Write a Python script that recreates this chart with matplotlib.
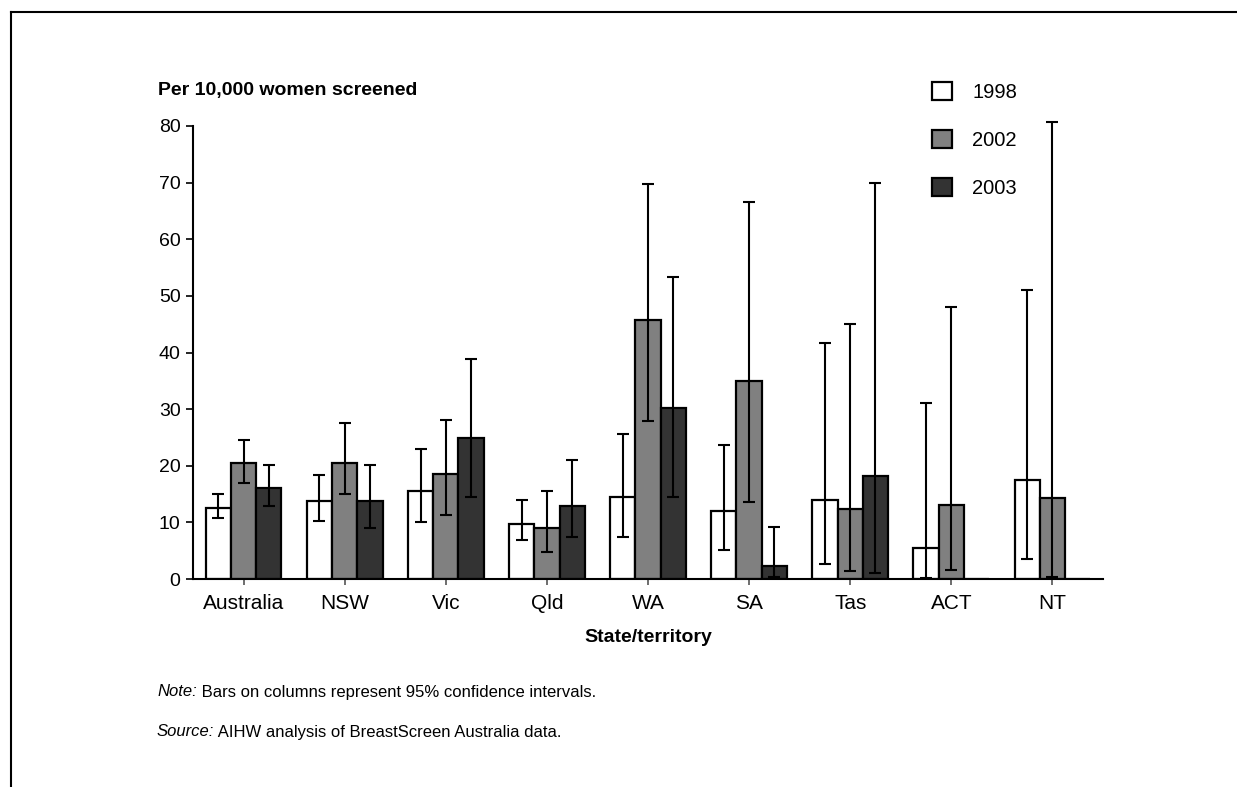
import numpy as np
import matplotlib
matplotlib.use('Agg')
import matplotlib.pyplot as plt
from matplotlib.patches import Patch
from matplotlib.lines import Line2D

plt.rcParams['font.family'] = ['Liberation Sans', 'DejaVu Sans']

# rates per 10,000 women screened, with 95% confidence limits
states = ['Australia', 'NSW', 'Vic', 'Qld', 'WA', 'SA', 'Tas', 'ACT', 'NT']
years = ['1998', '2002', '2003']

rate_1998 = [12.6, 13.8, 15.6, 9.7, 14.4, 12.0, 13.9, 5.5, 17.4]
low_1998 = [10.8, 10.2, 10.0, 6.8, 7.5, 5.2, 2.6, 0.2, 3.5]
high_1998 = [15.0, 18.4, 23.0, 13.9, 25.6, 23.6, 41.6, 31.1, 51.0]

rate_2002 = [20.4, 20.5, 18.5, 9.0, 45.8, 34.9, 12.4, 13.1, 14.3]
low_2002 = [17.0, 15.0, 11.3, 4.8, 27.9, 13.6, 1.5, 1.6, 0.4]
high_2002 = [24.6, 27.6, 28.0, 15.5, 69.7, 66.6, 45.1, 48.0, 80.7]

rate_2003 = [16.1, 13.8, 24.9, 12.9, 30.2, 2.3, 18.2, 0.0, 0.0]
low_2003 = [12.9, 9.0, 14.4, 7.5, 14.4, 0.4, 1.0, np.nan, np.nan]
high_2003 = [20.2, 20.2, 38.9, 21.0, 53.4, 9.1, 69.9, np.nan, np.nan]

colors = ['white', '#808080', '#333333']

W, H = 1237, 787
fig = plt.figure(figsize=(W / 100, H / 100), dpi=100)
ax = fig.add_axes([193 / W, 1 - 579 / H, (1103 - 193) / W, (579 - 126) / H])

x = np.arange(len(states))
width = 0.25
series = [(rate_1998, low_1998, high_1998),
          (rate_2002, low_2002, high_2002),
          (rate_2003, low_2003, high_2003)]

for i, (rate, lo, hi) in enumerate(series):
    rate = np.array(rate)
    err = np.array([rate - np.array(lo), np.array(hi) - rate])
    pos = x + (i - 1) * width
    ax.bar(pos, rate, width, color=colors[i], edgecolor='black', linewidth=1.6, zorder=2)
    eb = ax.errorbar(pos, rate, yerr=err, fmt='none', ecolor='black', elinewidth=1.5,
                     capsize=4, capthick=1.5, zorder=3)
    # NT's upper limit runs past the top of the axis
    for art in eb.lines[1] + eb.lines[2]:
        art.set_clip_on(False)

ax.set_xlim(-0.5, 8.5)
ax.set_ylim(0, 80)
ax.set_yticks(range(0, 81, 10))
ax.set_xticks(x)
ax.set_xticklabels(states, fontsize=15)
ax.tick_params(axis='y', labelsize=14, length=5, width=1.2, pad=4)
ax.tick_params(axis='x', length=4, width=1.2, pad=7, color='#555555')
for s in ['top', 'right']:
    ax.spines[s].set_visible(False)
for s in ['left', 'bottom']:
    ax.spines[s].set_linewidth(1.5)

fig.text(158 / W, 1 - 91 / H, 'Per 10,000 women screened', fontsize=14,
         fontweight='bold', ha='left', va='center')
fig.text(648 / W, 1 - 637 / H, 'State/territory', fontsize=14,
         fontweight='bold', ha='center', va='center')

handles = [Patch(facecolor=c, edgecolor='black', linewidth=1.6) for c in colors]
fig.legend(handles, years, loc='upper left', bbox_to_anchor=(932 / W, 1 - 82 / H),
           frameon=False, fontsize=14.5, handlelength=1.0, handleheight=1.0,
           labelspacing=1.4, handletextpad=1.0, borderpad=0, borderaxespad=0)

# footnotes with italic lead-in
renderer = fig.canvas.get_renderer()
notes = [('Note:', ' Bars on columns represent 95% confidence intervals.', 692),
         ('Source:', ' AIHW analysis of BreastScreen Australia data.', 732)]
for lead, rest, ypx in notes:
    t = fig.text(157 / W, 1 - ypx / H, lead, fontsize=12, style='italic',
                 ha='left', va='center')
    bb = t.get_window_extent(renderer)
    fig.text(bb.x1 / W, 1 - ypx / H, rest, fontsize=12, ha='left', va='center')

# outer frame: top and left edges
fig.add_artist(Line2D([11 / W, 1], [1 - 12 / H, 1 - 12 / H], color='black',
                      linewidth=1.5, transform=fig.transFigure))
fig.add_artist(Line2D([11 / W, 11 / W], [0, 1 - 12 / H], color='black',
                      linewidth=1.5, transform=fig.transFigure))

fig.savefig('out.png', dpi=100)
